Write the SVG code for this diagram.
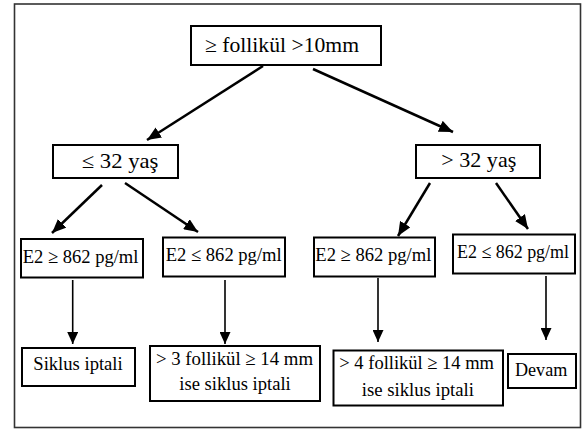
<svg xmlns="http://www.w3.org/2000/svg" width="583" height="430" viewBox="0 0 583 430">
<style>
.frame{fill:#fff;stroke:#333;stroke-width:1.6}
.box{fill:#fff;stroke:#000;stroke-width:2}
text{font-family:"Liberation Serif","Times New Roman",serif;fill:#000;font-weight:normal}
.big{font-size:21px}
.sm{font-size:19px}
.diag{stroke:#000;stroke-width:2.5;fill:none}
.vert{stroke:#000;stroke-width:1.6;fill:none}
</style>
<defs>
<marker id="ah" markerUnits="userSpaceOnUse" markerWidth="15" markerHeight="12" refX="14" refY="6" orient="auto">
<path d="M0,0 L14,6 L0,12 z" fill="#000"/>
</marker>
<marker id="av" markerUnits="userSpaceOnUse" markerWidth="13" markerHeight="11" refX="12" refY="5.5" orient="auto">
<path d="M0,0 L12,5.5 L0,11 z" fill="#000"/>
</marker>
</defs>
<rect class="frame" x="14.5" y="4" width="566" height="423.5"/>
<g id="connectors">
<line class="diag" x1="263" y1="66" x2="147" y2="140" marker-end="url(#ah)"/>
<line class="diag" x1="313" y1="69" x2="453" y2="132" marker-end="url(#ah)"/>
<line class="diag" x1="102" y1="185" x2="52" y2="233" marker-end="url(#ah)"/>
<line class="diag" x1="125" y1="183" x2="198" y2="232" marker-end="url(#ah)"/>
<line class="diag" x1="430" y1="183" x2="398" y2="236" marker-end="url(#ah)"/>
<line class="diag" x1="496" y1="183" x2="528" y2="229" marker-end="url(#ah)"/>
<line class="vert" x1="72.7" y1="280" x2="72.7" y2="344" marker-end="url(#av)"/>
<line class="vert" x1="225" y1="280" x2="225" y2="344" marker-end="url(#av)"/>
<line class="vert" x1="378" y1="278" x2="378" y2="342" marker-end="url(#av)"/>
<line class="vert" x1="546" y1="276" x2="546" y2="340" marker-end="url(#av)"/>
</g>
<g id="n-top">
<rect class="box" x="191" y="26" width="190" height="39"/>
<text class="big" x="205" y="52" textLength="154" lengthAdjust="spacingAndGlyphs">≥ follikül &gt;10mm</text>
</g>
<g id="n-le32">
<rect class="box" x="53" y="145" width="125" height="33"/>
<text class="big" x="81.7" y="168" textLength="76.7" lengthAdjust="spacingAndGlyphs">≤ 32 yaş</text>
</g>
<g id="n-gt32">
<rect class="box" x="416" y="145" width="124" height="33"/>
<text class="big" x="441.3" y="167" textLength="75" lengthAdjust="spacingAndGlyphs">&gt; 32 yaş</text>
</g>
<g id="n-e2a">
<rect class="box" x="21" y="239" width="122" height="38.5"/>
<text class="sm" x="22.7" y="263" textLength="115.7" lengthAdjust="spacingAndGlyphs">E2 ≥ 862 pg/ml</text>
</g>
<g id="n-e2b">
<rect class="box" x="163" y="237.5" width="122" height="39"/>
<text class="sm" x="165.7" y="261" textLength="116" lengthAdjust="spacingAndGlyphs">E2 ≤ 862 pg/ml</text>
</g>
<g id="n-e2c">
<rect class="box" x="314" y="237.5" width="121" height="39"/>
<text class="sm" x="315.3" y="260.5" textLength="116" lengthAdjust="spacingAndGlyphs">E2 ≥ 862 pg/ml</text>
</g>
<g id="n-e2d">
<rect class="box" x="453" y="234.5" width="122" height="39"/>
<text class="sm" x="457" y="258" textLength="112" lengthAdjust="spacingAndGlyphs">E2 ≤ 862 pg/ml</text>
</g>
<g id="n-siklus">
<rect class="box" x="22" y="348" width="113" height="38"/>
<text class="sm" x="33.3" y="370" textLength="89.4" lengthAdjust="spacingAndGlyphs">Siklus iptali</text>
</g>
<g id="n-gt3">
<rect class="box" x="150" y="346" width="170" height="55"/>
<text class="sm" x="156" y="364.5" textLength="157" lengthAdjust="spacingAndGlyphs">&gt; 3 follikül ≥ 14 mm</text>
<text class="sm" x="179.3" y="390" textLength="111.4" lengthAdjust="spacingAndGlyphs">ise siklus iptali</text>
</g>
<g id="n-gt4">
<rect class="box" x="333.5" y="350.5" width="169.5" height="55"/>
<text class="sm" x="339.3" y="369" textLength="154.7" lengthAdjust="spacingAndGlyphs">&gt; 4 follikül ≥ 14 mm</text>
<text class="sm" x="361.7" y="395.5" textLength="112.3" lengthAdjust="spacingAndGlyphs">ise siklus iptali</text>
</g>
<g id="n-devam">
<rect class="box" x="508" y="354" width="68" height="34"/>
<text class="sm" x="515" y="375.7" textLength="52.3" lengthAdjust="spacingAndGlyphs">Devam</text>
</g>
</svg>
